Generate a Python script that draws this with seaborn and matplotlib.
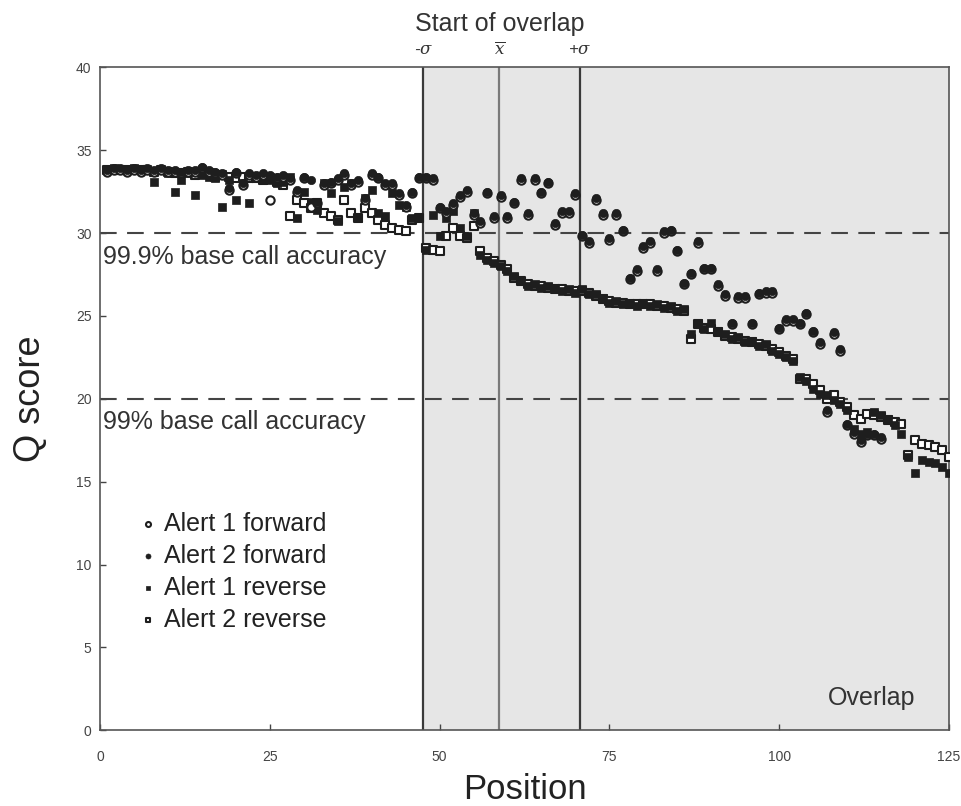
import numpy as np
import pandas as pd
import matplotlib
matplotlib.use("Agg")
import matplotlib.pyplot as plt
import seaborn as sns

# ---------------- data ----------------
pos_rev = list(range(1, 126))
pos_fwd = list(range(1, 116))

alert2_reverse = [
    33.8, 33.8, 33.8, 33.8, 33.8, 33.8, 33.8, 33.7, 33.8, 33.7,
    33.6, 33.6, 33.7, 33.5, 33.6, 33.6, 33.4, 33.5, 33.4, 33.3,
    33.4, 33.3, 33.3, 33.2, 33.3, 33.1, 32.9, 31.0, 32.0, 31.8,
    31.5, 31.8, 31.2, 31.0, 30.8, 32.0, 31.2, 30.9, 31.5, 31.2,
    30.8, 30.5, 30.3, 30.2, 30.1, 30.8, 30.9,
    29.1, 29.0, 28.9, 29.8, 30.3, 29.8, 29.7, 30.4,
    28.9, 28.5, 28.3, 28.1, 27.8,
    27.3, 27.1, 26.9, 26.8, 26.8, 26.7, 26.6, 26.6, 26.5, 26.5,
    26.5, 26.4, 26.2, 26.0, 25.9, 25.8, 25.8, 25.7, 25.7, 25.7,
    25.7, 25.6, 25.6, 25.5, 25.4, 25.3, 23.6, 24.5, 24.3, 24.2,
    24.0, 23.8, 23.7, 23.6, 23.5, 23.4, 23.3, 23.2, 23.0, 22.8,
    22.6, 22.4, 21.2, 21.2, 20.9, 20.5, 20.0, 20.2, 19.8, 19.5,
    19.0, 18.8, 19.1, 19.0, 18.9, 18.7, 18.6, 18.5, 16.6, 17.5,
    17.3, 17.2, 17.1, 16.9, 16.5,
]

alert1_reverse = [
    33.8, 33.9, 33.8, 33.8, 33.9, 33.8, 33.8, 33.1, 33.8, 33.6,
    32.5, 33.2, 33.6, 32.3, 33.5, 33.4, 33.3, 31.6, 33.2, 32.0,
    33.0, 31.8, 33.3, 33.2, 33.2, 33.0, 33.1, 33.4, 30.9, 32.5,
    31.9, 31.4, 33.0, 32.4, 30.7, 32.8, 33.0, 30.9, 32.1, 32.6,
    31.2, 31.0, 32.4, 31.7, 31.6, 30.9, 30.9,
    29.0, 31.1, 29.8, 30.9, 31.3, 30.3, 29.8, 31.2,
    28.7, 28.4, 28.2, 28.0, 27.7,
    27.4, 27.1, 26.8, 26.9, 26.7, 26.8, 26.7, 26.5, 26.6, 26.4,
    26.6, 26.3, 26.3, 26.1, 25.8, 25.9, 25.7, 25.8, 25.6, 25.8,
    25.6, 25.7, 25.5, 25.6, 25.3, 25.4, 23.9, 24.6, 24.2, 24.6,
    24.1, 23.9, 23.6, 23.7, 23.4, 23.5, 23.2, 23.3, 22.9, 22.7,
    22.5, 22.3, 21.3, 21.1, 20.6, 20.3, 20.2, 19.9, 19.7, 19.3,
    18.2, 17.9, 18.0, 19.2, 19.0, 18.8, 18.4, 17.9, 16.5, 15.5,
    16.3, 16.2, 16.1, 15.9, 15.5,
]

alert2_forward = [
    33.8, 33.9, 33.9, 33.8, 33.9, 33.8, 33.9, 33.8, 33.9, 33.8,
    33.8, 33.7, 33.8, 33.8, 34.0, 33.8, 33.7, 33.6, 32.7, 33.7,
    33.0, 33.6, 33.5, 33.6, 33.5, 33.4, 33.5, 33.3, 32.6, 33.4,
    33.2, 31.9, 33.0, 33.1, 33.3, 33.6, 33.0, 33.2, 32.1, 33.6,
    33.4, 33.0, 33.0, 32.4, 31.7, 32.5, 33.4,
    33.4, 33.3, 31.6, 31.3, 31.8, 32.3, 32.6, 31.2, 30.7, 32.5, 31.0, 32.3, 31.0,
    31.9, 33.3, 31.2, 33.3, 32.5, 33.1, 30.6, 31.3, 31.3, 32.4,
    29.9, 29.5, 32.1, 31.2, 29.7, 31.2, 30.2, 27.3, 27.8, 29.2,
    29.5, 27.8, 30.1, 30.2, 29.0, 27.0, 27.6, 29.5, 27.9, 27.9,
    26.9, 26.3, 24.6, 26.2, 26.2, 24.6, 26.4, 26.5, 26.5, 24.3,
    24.8, 24.8, 24.6, 25.2, 24.1, 23.4, 19.3, 24.0, 23.0, 18.5,
    18.0, 17.5, 17.9, 17.9, 17.7,
]

alert1_forward = [
    33.7, 33.8, 33.8, 33.7, 33.8, 33.7, 33.8, 33.7, 33.8, 33.7,
    33.7, 33.6, 33.7, 33.7, 33.9, 33.7, 33.6, 33.5, 32.6, 33.6,
    32.9, 33.5, 33.4, 33.5, 32.0, 33.3, 33.4, 33.2, 32.5, 33.3,
    31.6, 31.8, 32.9, 33.0, 33.2, 33.5, 32.9, 33.1, 32.0, 33.5,
    33.3, 32.9, 32.9, 32.3, 31.6, 32.4, 33.3,
    33.3, 33.2, 31.5, 31.2, 31.7, 32.2, 32.5, 31.1, 30.6, 32.4, 30.9, 32.2, 30.9,
    31.8, 33.2, 31.1, 33.2, 32.4, 33.0, 30.5, 31.2, 31.2, 32.3,
    29.8, 29.4, 32.0, 31.1, 29.6, 31.1, 30.1, 27.2, 27.7, 29.1,
    29.4, 27.7, 30.0, 30.1, 28.9, 26.9, 27.5, 29.4, 27.8, 27.8,
    26.8, 26.2, 24.5, 26.1, 26.1, 24.5, 26.3, 26.4, 26.4, 24.2,
    24.7, 24.7, 24.5, 25.1, 24.0, 23.3, 19.2, 23.9, 22.9, 18.4,
    17.9, 17.4, 17.8, 17.8, 17.6,
]

x_ticks = [0, 25, 50, 75, 100, 125]
y_ticks = [0, 5, 10, 15, 20, 25, 30, 35, 40]
overlap_lines = [47.6, 58.8, 70.7]
overlap_labels = ["-$\\sigma$", "$\\overline{x}$", "+$\\sigma$"]
accuracy_levels = [30, 20]
accuracy_labels = ["99.9% base call accuracy", "99% base call accuracy"]

# ---------------- plot ----------------
sns.set_style("white")
plt.rcParams["font.family"] = ["Liberation Sans", "DejaVu Sans"]
plt.rcParams["mathtext.fontset"] = "dejavuserif"

fig = plt.figure(figsize=(9.61, 8.06), dpi=100)
ax = fig.add_axes([0.104, 0.094, 0.8835, 0.8225])

ax.axvspan(overlap_lines[0], 125, color="#e6e6e6", zorder=0, lw=0)

ink = "#1e1e1e"
ms = 30
sns.scatterplot(x=pos_rev, y=alert2_reverse, ax=ax, marker="s", s=ms,
                facecolor="white", edgecolor=ink, linewidth=1.5, zorder=3,
                label="Alert 2 reverse")
sns.scatterplot(x=pos_rev, y=alert1_reverse, ax=ax, marker="s", s=ms,
                color=ink, edgecolor=ink, linewidth=0.5, zorder=4,
                label="Alert 1 reverse")
sns.scatterplot(x=pos_fwd, y=alert1_forward, ax=ax, marker="o", s=ms + 6,
                facecolor="white", edgecolor=ink, linewidth=1.5, zorder=5,
                label="Alert 1 forward")
sns.scatterplot(x=pos_fwd, y=alert2_forward, ax=ax, marker="o", s=ms + 6,
                color=ink, edgecolor=ink, linewidth=0.5, zorder=6,
                label="Alert 2 forward")

for lvl, lab in zip(accuracy_levels, accuracy_labels):
    ax.axhline(lvl, color="#444444", lw=1.5, ls=(0, (8, 5)), zorder=2)
    ax.text(0.5, lvl - 0.7, lab, ha="left", va="top", fontsize=18,
            color="#333333", zorder=7)

line_cols = ["#3a3a3a", "#7a7a7a", "#3a3a3a"]
for xv, lab, c in zip(overlap_lines, overlap_labels, line_cols):
    ax.axvline(xv, color=c, lw=1.6, zorder=2)
    ax.text(xv, 40.6, lab, ha="center", va="bottom", fontsize=12,
            color="#333333", style="italic")
ax.text(overlap_lines[1], 41.9, "Start of overlap", ha="center", va="bottom",
        fontsize=18, color="#333333")

ax.text(120, 1.2, "Overlap", ha="right", va="bottom", fontsize=18,
        color="#333333")

ax.set_xlim(0, 125)
ax.set_ylim(0, 40)
ax.set_xticks(x_ticks)
ax.set_yticks(y_ticks)
ax.tick_params(axis="both", labelsize=10, colors="#444444", length=4,
               direction="in", width=1)
ax.tick_params(axis="x", pad=14)
ax.tick_params(axis="y", pad=6)
ax.tick_params(axis="both", left=True, bottom=True)
for sp in ax.spines.values():
    sp.set_color("#555555")
    sp.set_linewidth(1.2)
ax.set_xlabel("Position", fontsize=25, color="#222222", labelpad=7)
ax.set_ylabel("Q score", fontsize=26, color="#222222", labelpad=20)

handles, labels = ax.get_legend_handles_labels()
order = ["Alert 1 forward", "Alert 2 forward", "Alert 1 reverse", "Alert 2 reverse"]
hmap = dict(zip(labels, handles))
leg = ax.legend([hmap[o] for o in order], order, loc="upper left",
                bbox_to_anchor=(0.027, 0.345), frameon=False, fontsize=18,
                markerscale=0.6, handletextpad=0.05, handlelength=1.2,
                labelspacing=0.32, borderaxespad=0)
for t in leg.get_texts():
    t.set_color("#222222")

fig.savefig("out.png", dpi=100)
